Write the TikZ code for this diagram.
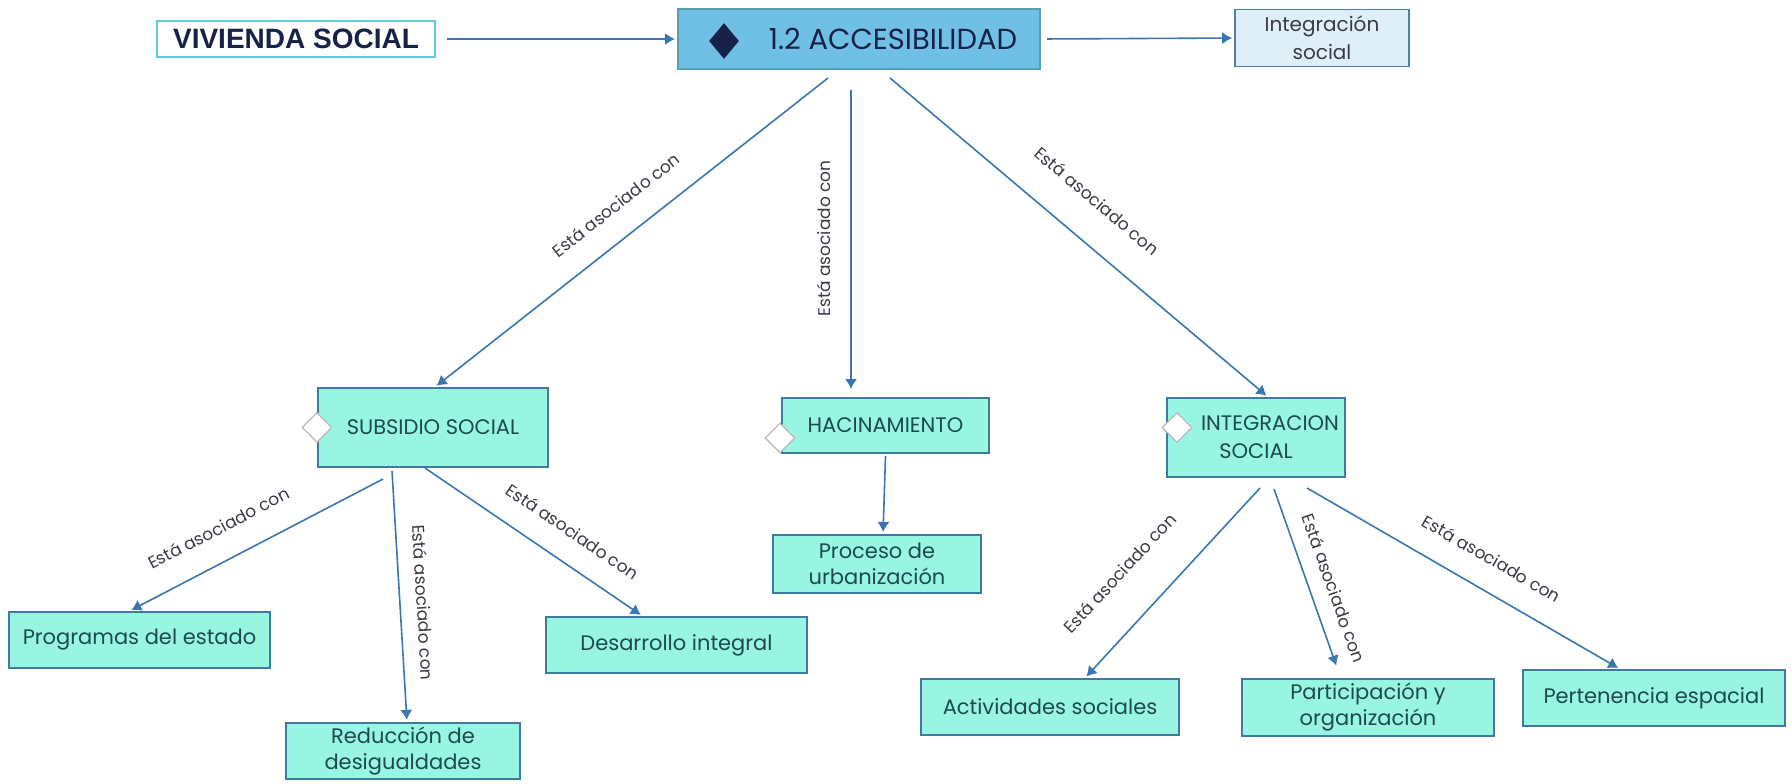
\documentclass[tikz,border=0pt]{standalone}
\usepackage{fontspec}
\setmainfont{Poppins}
\newfontfamily\titlefont{Liberation Sans}
\usetikzlibrary{
        arrows.meta,
        shapes.geometric
    }
\definecolor{aquafill}{RGB}{152,245,225}
\definecolor{aquaedge}{RGB}{64,122,158}
\definecolor{skyfill}{RGB}{112,192,230}
\definecolor{skyedge}{RGB}{86,160,176}
\definecolor{palefill}{RGB}{222,239,250}
\definecolor{paleedge}{RGB}{74,128,176}
\definecolor{cyanedge}{RGB}{96,200,222}
\definecolor{navy}{RGB}{24,34,72}
\definecolor{linkblue}{RGB}{58,118,178}
\definecolor{boxtext}{RGB}{28,74,80}
\definecolor{labtext}{RGB}{58,58,70}
\tikzset{>={Latex[length=5pt,width=6pt]},shorten >=1pt}
\tikzset{
    concept/.style={draw=aquaedge,fill=aquafill,line width=1pt,align=center,text=boxtext,
        font=\fontsize{10.5}{13}\selectfont,inner sep=2pt},
    topic/.style={concept,font=\fontsize{10.5}{14}\selectfont},
    link/.style={->,draw=linkblue,line width=0.8pt},
    rel/.style={sloped,above,inner sep=1pt,text=labtext,font=\fontsize{8.5}{10}\selectfont},
    tag/.style={diamond,draw=gray!55,fill=white,line width=0.6pt,minimum size=15pt,inner sep=0pt}
}

\begin{document}
\begin{tikzpicture}[x=0.5pt,y=-0.5pt]
    \useasboundingbox (0,0) rectangle (1792,783);

    % top row
    \node[draw=cyanedge,fill=white,line width=1.2pt,minimum width=139pt,minimum height=18pt,
          text=navy,font=\titlefont\bfseries\fontsize{14}{16}\selectfont] (viv) at (296,39) {VIVIENDA SOCIAL};
    \node[draw=skyedge,fill=skyfill,line width=1pt,minimum width=181pt,minimum height=30pt,
          text=navy,font=\fontsize{14.5}{16}\selectfont] (acc) at (859,39) {\hspace*{34pt}1.2 ACCESIBILIDAD};
    \node[diamond,fill=navy,minimum width=15pt,minimum height=18pt,inner sep=0pt] (adia) at ([shift={(47,2)}]acc.west) {};
    \node[draw=paleedge,fill=palefill,line width=0.8pt,minimum width=87pt,minimum height=28pt,align=center,
          text=labtext,font=\fontsize{10}{14}\selectfont] (intsoc) at (1322,38) {Integración\\social};

    % second row
    \node[topic,minimum width=115pt,minimum height=39.5pt] (sub) at (433,427.5) {SUBSIDIO SOCIAL};
    \node[topic,minimum width=103.5pt,minimum height=27.5pt] (hac) at (885.5,425.5) {HACINAMIENTO};
    \node[topic,minimum width=89pt,minimum height=39.5pt] (integ) at (1256,437.5) {\hspace*{14pt}INTEGRACION\\SOCIAL};
    \node[tag] (sdia) at (sub.west) {};
    \node[tag] (hdia) at ([shift={(-1,-16)}]hac.south west) {};
    \node[tag] (idia) at ([shift={(11,-10)}]integ.west) {};

    % leaves
    \node[concept,minimum width=104pt,minimum height=29pt] (proc) at (877,564) {Proceso de\\urbanización};
    \node[concept,minimum width=130.5pt,minimum height=28pt] (prog) at (139.5,640) {Programas del estado};
    \node[concept,minimum width=117pt,minimum height=28pt] (red) at (403,751) {Reducción de\\desigualdades};
    \node[concept,minimum width=130.5pt,minimum height=28pt] (des) at (676.5,645) {Desarrollo integral};
    \node[concept,minimum width=129pt,minimum height=28pt] (act) at (1050,707) {Actividades sociales};
    \node[concept,minimum width=126pt,minimum height=28.5pt] (part) at (1368,707) {Participación y\\organización};
    \node[concept,minimum width=131pt,minimum height=28pt] (pert) at (1654,698) {Pertenencia espacial};

    % links
    \draw[link,shorten <=5.5pt] (viv.east) -- (acc.west);
    \draw[link,shorten <=3pt] (acc.east) -- (intsoc.west);
    \draw[link] ([shift={(-31,8)}]acc.south) -- node[rel,pos=.49,above=11pt] {Está asociado con} ([xshift=1pt]sub.north);
    \draw[link,<-] ([shift={(-34.5,-8)}]hac.north) -- node[rel,pos=.5,above=9pt] {Está asociado con} ([shift={(-8,18)}]acc.south);
    \draw[link] ([shift={(31,8)}]acc.south) -- node[rel,pos=.48,above=15pt] {Está asociado con} ([xshift=6pt]integ.north);
    \draw[link] ([yshift=-1pt]hac.south) -- ([xshift=3pt]proc.north);

    \draw[link] ([shift={(-50,11)}]sub.south) -- node[rel,pos=.59,above=11.5pt] {Está asociado con} ([xshift=-5pt]prog.north);
    \draw[link] ([shift={(-41,3)}]sub.south) -- node[rel,pos=.53,above=7pt] {Está asociado con} ([xshift=2pt]red.north);
    \draw[link] ([xshift=-4pt]sub.south) -- node[rel,pos=.6,above=10.5pt] {Está asociado con} ([xshift=-17pt]des.north);

    \draw[link] ([shift={(4,10)}]integ.south) -- node[rel,pos=.61,above=18pt] {Está asociado con} ([xshift=17.5pt]act.north);
    \draw[link] ([shift={(18,11)}]integ.south) -- node[rel,pos=.6,above=7pt] {Está asociado con} ([shift={(-31,-10)}]part.north);
    \draw[link] ([shift={(51,10)}]integ.south) -- node[rel,pos=.54,above=11pt] {Está asociado con} ([xshift=-17pt]pert.north);
\end{tikzpicture}
\end{document}
